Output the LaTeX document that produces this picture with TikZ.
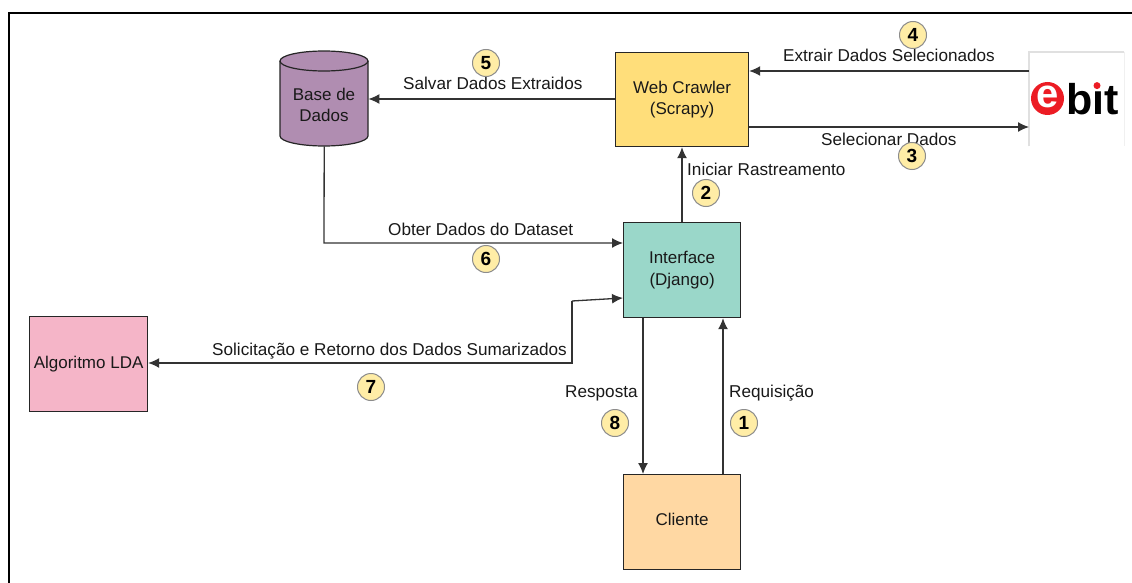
\documentclass[tikz,border=0pt]{standalone}
\usepackage{fontspec}
\setmainfont{Liberation Sans}
\usetikzlibrary{arrows.meta,shapes.geometric}
\definecolor{cyl}{HTML}{B08DB1}
\definecolor{crawler}{HTML}{FFDE7A}
\definecolor{iface}{HTML}{9AD7C9}
\definecolor{lda}{HTML}{F5B5C8}
\definecolor{client}{HTML}{FFD8A3}
\definecolor{badge}{HTML}{FFEDA6}
\definecolor{ebitred}{HTML}{EC1C24}
\tikzset{
 x=1pt,y=-1pt,
 lbl/.style={font=\fontsize{17.15}{20}\selectfont,text=black!90,inner sep=0pt},
 boxn/.style={draw=black!85,line width=1.2pt,align=center,font=\fontsize{17}{21.5}\selectfont,text=black!90,inner sep=0pt,anchor=north west},
 conn/.style={draw=black!80,line width=1.3pt,-{Latex[length=11pt,width=10pt]}},
 num/.style={circle,draw=black!45,line width=1pt,fill=badge,minimum size=27pt,inner sep=0pt,font=\bfseries\fontsize{19}{20}\selectfont},
}
\begin{document}
\begin{tikzpicture}
\useasboundingbox (0,0) rectangle (1132,583);
\fill[white] (0,0) rectangle (1132,583);
\draw[black,line width=2pt] (8.5,583) -- (8.5,13) -- (1132,13);
% boxes
\node[boxn,fill=crawler,minimum width=133pt,minimum height=94pt] (wc) at (615,52) {Web Crawler\\(Scrapy)};
\node[boxn,fill=iface,minimum width=117pt,minimum height=95pt] (if) at (623,222) {Interface\\(Django)};
\node[boxn,fill=lda,minimum width=118pt,minimum height=95pt] (lda) at (29,316) {Algoritmo LDA};
\node[boxn,fill=client,minimum width=117pt,minimum height=94.5pt] (cl) at (623,474) {};
\node[lbl,font=\fontsize{17}{20}\selectfont] (clt) at (682,519) {Cliente};
% cylinder
\node[inner sep=0pt,minimum width=88pt,minimum height=95pt,anchor=north west] (db) at (280,51) {};
\fill[cyl,draw=black!85,line width=1.2pt] (280,61) -- (280,136) arc[start angle=180,end angle=0,x radius=44,y radius=10] -- (368,61) arc[start angle=0,end angle=-180,x radius=44,y radius=10] -- cycle;
\draw[black!85,line width=1.2pt] (280,61) arc[start angle=180,end angle=0,x radius=44,y radius=10];
\node[align=center,font=\fontsize{17}{21}\selectfont,text=black!90,inner sep=0pt] (dbt) at (324,105) {Base de\\Dados};
% logo
\node[inner sep=0pt,minimum width=95pt,minimum height=94pt,anchor=north west,fill=white] (eb) at (1029,52) {};
\draw[black!12,line width=1.5pt] (eb.south west) -- (eb.north west) -- (eb.north east);
\draw[black!6,line width=.8pt] (eb.north east) -- (eb.south east);
\fill[ebitred] (1047.5,98.5) circle (16.5pt);
\node[inner sep=0pt,text=white,font=\bfseries\fontsize{40}{40}\selectfont] (ee) at (1047.5,96.5) {e};
\node[anchor=base west,inner sep=0pt,text=black,font=\bfseries\fontsize{43}{44}\selectfont] (bit) at (1066,115) {bit};
\fill[white] (1091,80) rectangle (1105,91);
\fill[ebitred] (1097,85.6) circle (3.5pt);
% connectors
\draw[conn] (eb.west|-0,71) -- (wc.east|-0,71);
\draw[conn] (wc.east|-0,127) -- (eb.west|-0,127);
\draw[conn] (wc.west|-0,99) -- (db.east|-0,99);
\draw[conn] (if.north-|682,0) -- (wc.south-|682,0);
\draw[conn] (db.south) -- (324,243) -- (if.west|-0,243);
\coordinate (k1) at (572,301);
\coordinate (k2) at (572,363);
\draw[conn] (k1) -- (if.west|-0,298);
\draw[conn] (k1) -- (k2) -- (lda.east|-0,363);
\draw[conn] (if.south-|643,0) -- (cl.north-|643,0);
\draw[conn] (cl.north-|723,0) -- (if.south-|723,0);
% labels
\node[lbl,anchor=west] (t4) at (783,55) {Extrair Dados Selecionados};
\node[lbl,anchor=west] (t3) at (821,139) {Selecionar Dados};
\node[lbl,anchor=west] (t5) at (403,83.5) {Salvar Dados Extraidos};
\node[lbl,anchor=west] (t2) at (687,169) {Iniciar Rastreamento};
\node[lbl,anchor=west] (t6) at (388,229) {Obter Dados do Dataset};
\node[lbl,anchor=west] (t7) at (212,351) {Solicitação e Retorno dos Dados Sumarizados};
\node[lbl,anchor=west] (t8) at (565,393) {Resposta};
\node[lbl,anchor=west] (t1) at (729,393) {Requisição};
% badges
\node[num] (n1) at (744,423) {1};
\node[num] (n2) at (706,193) {2};
\node[num] (n3) at (912,156) {3};
\node[num] (n4) at (913,35) {4};
\node[num] (n5) at (486,63) {5};
\node[num] (n6) at (486,259) {6};
\node[num] (n7) at (371,387) {7};
\node[num] (n8) at (615,423) {8};
\end{tikzpicture}
\end{document}
